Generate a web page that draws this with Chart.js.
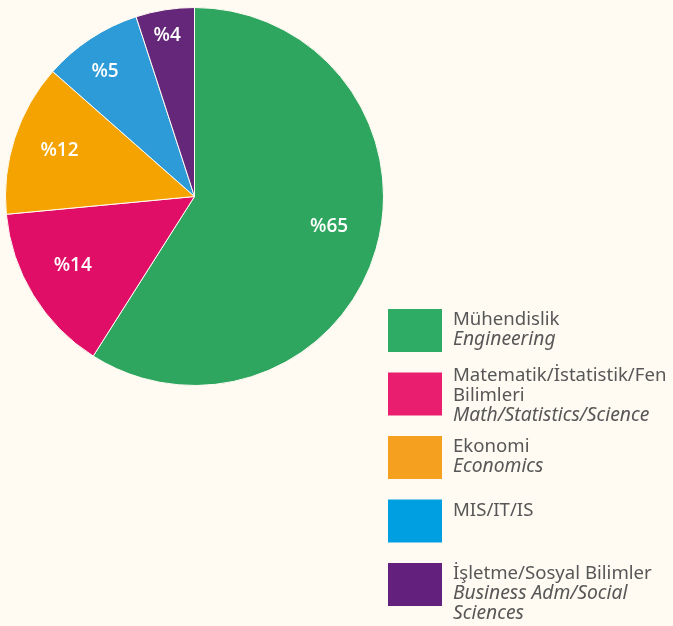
<!DOCTYPE html>
<html>
<head>
<meta charset="utf-8">
<script src="https://cdn.jsdelivr.net/npm/chart.js@4"></script>
<style>
  html, body { margin: 0; padding: 0; background: #fffbf3; }
  #wrap { width: 673px; height: 626px; }
</style>
</head>
<body>
<div id="wrap"><canvas id="myChart" width="673" height="626"></canvas></div>
<script>
// veriler
const categoriesTr = ['Mühendislik', 'Matematik/İstatistik/Fen\nBilimleri', 'Ekonomi', 'MIS/IT/IS', 'İşletme/Sosyal Bilimler'];
const categoriesEn = ['Engineering', 'Math/Statistics/Science', 'Economics', '', 'Business Adm/Social\nSciences'];
const percentLabels = ['%65', '%14', '%12', '%5', '%4'];
const sliceShares = [59.0, 14.5, 13.0, 8.5, 5.0]; // dilim büyüklükleri
const sliceColors = ['#2ea65f', '#e10e68', '#f4a301', '#2c9bd7', '#652779'];
const legendColors = ['#2eab64', '#e91e6f', '#f5a11f', '#009fe1', '#63217d'];

// etiket yerleşimi: [açı kayması (derece), yarıçap oranı]
const labelPlace = [[-3.5, 0.73], [2, 0.74], [0.9, 0.755], [-2.2, 0.815], [-0.6, 0.865]];

const sliceLabels = {
  id: 'sliceLabels',
  afterDatasetsDraw(chart) {
    const ctx = chart.ctx;
    const meta = chart.getDatasetMeta(0);
    ctx.save();
    ctx.fillStyle = '#ffffff';
    ctx.font = '600 19px "Open Sans"';
    ctx.textAlign = 'center';
    ctx.textBaseline = 'middle';
    meta.data.forEach((arc, i) => {
      const p = arc.getProps(['x', 'y', 'startAngle', 'endAngle', 'outerRadius'], true);
      const mid = (p.startAngle + p.endAngle) / 2 + labelPlace[i][0] * Math.PI / 180;
      const r = p.outerRadius * labelPlace[i][1];
      ctx.fillText(percentLabels[i], p.x + Math.cos(mid) * r, p.y + Math.sin(mid) * r);
    });
    ctx.restore();
  }
};

const sideLegend = {
  id: 'sideLegend',
  afterDraw(chart) {
    const ctx = chart.ctx;
    ctx.save();
    ctx.textBaseline = 'alphabetic';
    ctx.textAlign = 'left';
    categoriesTr.forEach((name, i) => {
      const top = 309 + i * 63.5;
      ctx.fillStyle = legendColors[i];
      ctx.fillRect(388, top, 54, 43);

      const trLines = name.split('\n');
      const enLines = categoriesEn[i] ? categoriesEn[i].split('\n') : [];
      let y = top + 16 - (trLines.length - 1) * 8;
      ctx.fillStyle = '#575757';
      ctx.font = '18.6px "Noto Sans"';
      trLines.forEach(line => { ctx.fillText(line, 453, y); y += 20; });
      ctx.font = 'italic 19.3px "Noto Sans"';
      enLines.forEach(line => { ctx.fillText(line, 453, y); y += 20; });
    });
    ctx.restore();
  }
};

const ctx = document.getElementById('myChart').getContext('2d');
new Chart(ctx, {
  type: 'pie',
  data: {
    labels: categoriesTr,
    datasets: [{
      data: sliceShares,
      backgroundColor: sliceColors,
      borderColor: '#fffbf3',
      borderWidth: 1
    }]
  },
  options: {
    responsive: false,
    animation: false,
    devicePixelRatio: 1,
    layout: { padding: { left: 5, top: 7, right: 289, bottom: 240 } },
    plugins: {
      legend: { display: false },
      tooltip: { enabled: false }
    }
  },
  plugins: [sliceLabels, sideLegend]
});
</script>
</body>
</html>
